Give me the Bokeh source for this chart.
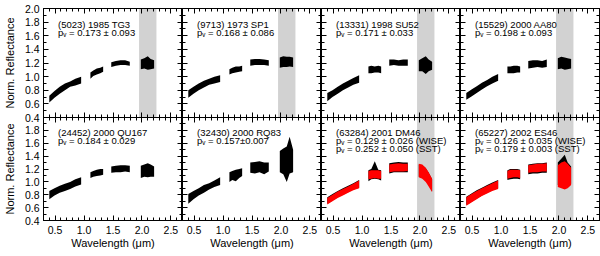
from bokeh.plotting import figure
from bokeh.layouts import gridplot
from bokeh.models import (Range1d, FixedTicker, LinearAxis, BoxAnnotation, Label,
                          ColumnDataSource, PrintfTickFormatter)
from bokeh.embed import file_html
from bokeh.resources import INLINE

# ---------------- data ----------------
# common wavelength sampling of the four spectral pieces (micron)
wavelength = [0.40, 0.49, 0.58, 0.67, 0.76, 0.85, 0.95,
              1.11, 1.16, 1.22, 1.28, 1.33,
              1.47, 1.55, 1.63, 1.71, 1.79,
              1.98, 2.04, 2.10, 2.15, 2.21]
segment = ["vis"] * 7 + ["J"] * 5 + ["H"] * 5 + ["K"] * 5

# lower / upper envelope of the (noisy) normalised reflectance, black spectra
lo_5023 = [0.62, 0.69, 0.75, 0.80, 0.85, 0.87, 0.90, 0.97, 1.01, 1.03, 1.05, 1.07, 1.14, 1.16, 1.17, 1.17, 1.16, 1.11, 1.12, 1.10, 1.11, 1.12]
hi_5023 = [0.72, 0.79, 0.85, 0.90, 0.93, 0.97, 1.00, 1.06, 1.09, 1.12, 1.13, 1.15, 1.21, 1.23, 1.24, 1.24, 1.22, 1.25, 1.27, 1.30, 1.26, 1.24]
lo_9713 = [0.69, 0.75, 0.80, 0.84, 0.88, 0.90, 0.92, 1.03, 1.05, 1.06, 1.07, 1.08, 1.16, 1.17, 1.17, 1.17, 1.16, 1.13, 1.14, 1.14, 1.15, 1.14]
hi_9713 = [0.80, 0.85, 0.90, 0.94, 0.97, 1.00, 1.02, 1.11, 1.13, 1.15, 1.15, 1.16, 1.25, 1.26, 1.26, 1.25, 1.24, 1.28, 1.30, 1.29, 1.29, 1.28]
lo_13331 = [0.64, 0.70, 0.75, 0.80, 0.84, 0.88, 0.91, 1.05, 1.05, 1.06, 1.06, 1.05, 1.16, 1.17, 1.16, 1.16, 1.16, 1.08, 1.08, 1.04, 1.08, 1.10]
hi_13331 = [0.76, 0.80, 0.85, 0.90, 0.94, 0.98, 1.02, 1.15, 1.16, 1.15, 1.16, 1.15, 1.25, 1.25, 1.24, 1.25, 1.25, 1.24, 1.27, 1.30, 1.25, 1.22]
lo_15529 = [0.66, 0.71, 0.76, 0.81, 0.86, 0.90, 0.94, 1.05, 1.05, 1.05, 1.06, 1.06, 1.12, 1.13, 1.14, 1.13, 1.14, 1.11, 1.12, 1.10, 1.11, 1.12]
hi_15529 = [0.76, 0.81, 0.86, 0.91, 0.95, 1.00, 1.04, 1.15, 1.15, 1.16, 1.16, 1.15, 1.23, 1.24, 1.24, 1.23, 1.25, 1.27, 1.29, 1.28, 1.27, 1.26]
lo_24452 = [0.73, 0.79, 0.83, 0.86, 0.89, 0.93, 0.96, 1.06, 1.08, 1.09, 1.10, 1.11, 1.14, 1.15, 1.15, 1.16, 1.15, 1.06, 1.08, 1.07, 1.08, 1.08]
hi_24452 = [0.86, 0.90, 0.94, 0.97, 1.00, 1.04, 1.07, 1.15, 1.17, 1.19, 1.20, 1.20, 1.24, 1.25, 1.26, 1.26, 1.25, 1.25, 1.27, 1.29, 1.27, 1.24]
lo_32430 = [0.66, 0.73, 0.79, 0.83, 0.88, 0.92, 0.95, 1.00, 1.03, 1.01, 1.06, 1.09, 1.14, 1.13, 1.15, 1.12, 1.16, 1.15, 1.12, 1.00, 1.13, 1.15]
hi_32430 = [0.81, 0.86, 0.90, 0.95, 0.98, 1.02, 1.07, 1.15, 1.17, 1.19, 1.20, 1.21, 1.30, 1.31, 1.32, 1.30, 1.30, 1.48, 1.52, 1.55, 1.70, 1.50]
lo_63284 = [0.66, 0.71, 0.76, 0.80, 0.84, 0.88, 0.91, 1.01, 1.04, 1.05, 1.04, 1.02, 1.13, 1.15, 1.15, 1.15, 1.15, 1.08, 1.06, 1.02, 0.95, 0.86]
hi_63284 = [0.76, 0.81, 0.86, 0.90, 0.94, 0.98, 1.03, 1.18, 1.20, 1.32, 1.19, 1.18, 1.29, 1.30, 1.31, 1.30, 1.30, 1.27, 1.26, 1.21, 1.14, 1.04]
lo_65227 = [0.64, 0.69, 0.74, 0.79, 0.83, 0.87, 0.90, 1.03, 1.04, 1.05, 1.05, 1.04, 1.12, 1.13, 1.13, 1.14, 1.14, 0.95, 0.93, 0.91, 0.93, 0.97]
hi_65227 = [0.77, 0.82, 0.87, 0.91, 0.95, 0.99, 1.03, 1.18, 1.20, 1.20, 1.20, 1.19, 1.27, 1.28, 1.29, 1.29, 1.30, 1.30, 1.36, 1.42, 1.30, 1.24]

# second (red) spectra of the last two objects
red_lo_63284 = [0.65, 0.70, 0.75, 0.79, 0.83, 0.87, 0.90, 1.04, 1.05, 1.06, 1.05, 1.05, 1.15, 1.16, 1.16, 1.16, 1.17, 1.07, 1.05, 1.00, 0.93, 0.84]
red_hi_63284 = [0.75, 0.80, 0.85, 0.89, 0.93, 0.97, 1.02, 1.17, 1.18, 1.18, 1.18, 1.17, 1.27, 1.28, 1.29, 1.28, 1.28, 1.28, 1.27, 1.22, 1.15, 1.05]
red_lo_65227 = [0.63, 0.68, 0.73, 0.78, 0.82, 0.86, 0.89, 1.05, 1.06, 1.07, 1.07, 1.06, 1.14, 1.15, 1.15, 1.16, 1.16, 0.92, 0.90, 0.88, 0.90, 0.95]
red_hi_65227 = [0.76, 0.81, 0.86, 0.90, 0.94, 0.98, 1.02, 1.17, 1.19, 1.19, 1.19, 1.18, 1.26, 1.27, 1.28, 1.28, 1.29, 1.26, 1.30, 1.32, 1.28, 1.22]

names = ["(5023) 1985 TG3", "(9713) 1973 SP1", "(13331) 1998 SU52", "(15529) 2000 AA80",
         "(24452) 2000 QU167", "(32430) 2000 RQ83", "(63284) 2001 DM46", "(65227) 2002 ES46"]
albedo_lines = [["pᵥ = 0.173 ± 0.093"], ["pᵥ = 0.168 ± 0.086"], ["pᵥ = 0.171 ± 0.033"], ["pᵥ = 0.198 ± 0.093"],
                ["pᵥ = 0.184 ± 0.029"], ["pᵥ = 0.157±0.007"],
                ["pᵥ = 0.129 ± 0.026 (WISE)", "pᵥ = 0.252 ± 0.050 (SST)"],
                ["pᵥ = 0.126 ± 0.035 (WISE)", "pᵥ = 0.179 ± 0.003 (SST)"]]
black_lo = [lo_5023, lo_9713, lo_13331, lo_15529, lo_24452, lo_32430, lo_63284, lo_65227]
black_hi = [hi_5023, hi_9713, hi_13331, hi_15529, hi_24452, hi_32430, hi_63284, hi_65227]
red_lo = [None, None, None, None, None, None, red_lo_63284, red_lo_65227]
red_hi = [None, None, None, None, None, None, red_hi_63284, red_hi_65227]
shaded = [True, True, True, True, False, False, True, True]
shade_range = [1.95, 2.25]

x_range_lim = [0.3, 2.7]
y_range_lim = [0.4, 2.0]
x_major = [0.5, 1.0, 1.5, 2.0, 2.5]
x_minor = [0.3, 0.4, 0.6, 0.7, 0.8, 0.9, 1.1, 1.2, 1.3, 1.4, 1.6, 1.7, 1.8, 1.9, 2.1, 2.2, 2.3, 2.4, 2.6, 2.7]
y_major = [0.4, 0.6, 0.8, 1.0, 1.2, 1.4, 1.6, 1.8, 2.0]
y_major_labelled_bottom = [0.4, 0.6, 0.8, 1.0, 1.2, 1.4, 1.6, 1.8]
y_minor = [0.5, 0.7, 0.9, 1.1, 1.3, 1.5, 1.7, 1.9]

# ---------------- layout / style ----------------
FW, FH = 139, 109
LEFT, RIGHT, TOP, BOTTOM, GAP = 40, 3, 8, 29, 6
FONT = "Liberation Sans"
TICK_SIZE = "10.5px"
LABEL_SIZE = "11px"
NOTE_SIZE = "9.5px"
SHADE = "#d2d2d2"
MAJOR_LEN, MINOR_LEN = 5, 3
text_y = [1.77, 1.65, 1.525]
text_x = 0.55


def plain_axis(ticks, length, line_color="black"):
    """axis that draws only inward ticks (as 'minor' ticks) and no labels"""
    return LinearAxis(ticker=FixedTicker(ticks=[], minor_ticks=ticks), axis_line_color=line_color,
                      minor_tick_in=length, minor_tick_out=0, minor_tick_line_color="black",
                      major_tick_in=0, major_tick_out=0, axis_label=None)


def add_hidden_side(p, side, major, minor):
    p.add_layout(plain_axis(major, MAJOR_LEN), side)
    p.add_layout(plain_axis(minor, MINOR_LEN, line_color=None), side)


def labelled_axis(major, minor, label, standoff, label_standoff):
    return LinearAxis(ticker=FixedTicker(ticks=major, minor_ticks=minor),
                      formatter=PrintfTickFormatter(format="%.1f"),
                      axis_line_color="black", major_tick_in=MAJOR_LEN, major_tick_out=0,
                      minor_tick_in=MINOR_LEN, minor_tick_out=0,
                      major_tick_line_color="black", minor_tick_line_color="black",
                      major_label_text_font=FONT, major_label_text_font_size=TICK_SIZE,
                      major_label_text_color="black", major_label_standoff=standoff,
                      axis_label=label, axis_label_text_font=FONT,
                      axis_label_text_font_size=LABEL_SIZE, axis_label_text_font_style="normal",
                      axis_label_text_color="black", axis_label_standoff=label_standoff)


panels = []
for i in range(8):
    row, col = divmod(i, 4)
    p = figure(frame_width=FW, frame_height=FH,
               x_range=Range1d(*x_range_lim), y_range=Range1d(*y_range_lim),
               x_axis_location=None, y_axis_location=None,
               output_backend="svg", toolbar_location=None,
               min_border=0,
               min_border_left=LEFT if col == 0 else 0,
               min_border_right=RIGHT if col == 3 else 0,
               min_border_top=TOP if row == 0 else 0,
               min_border_bottom=GAP if row == 0 else BOTTOM,
               background_fill_color="white", border_fill_color="white",
               outline_line_color="black", outline_line_width=1)
    if row == 1:
        p.margin = (-GAP, 0, 0, 0)
        p.border_fill_alpha = 0
    p.xgrid.visible = False
    p.ygrid.visible = False

    # x axes
    if row == 1:
        p.add_layout(labelled_axis(x_major, x_minor, "Wavelength (μm)", 5, 0), "below")
    else:
        add_hidden_side(p, "below", x_major, x_minor)
    add_hidden_side(p, "above", x_major, x_minor)
    # y axes
    if col == 0:
        p.add_layout(labelled_axis(y_major if row == 0 else y_major_labelled_bottom, y_minor,
                                   "Norm. Reflectance", 4, 6), "left")
    else:
        add_hidden_side(p, "left", y_major, y_minor)
    add_hidden_side(p, "right", y_major, y_minor)

    if shaded[i]:
        p.add_layout(BoxAnnotation(left=shade_range[0], right=shade_range[1],
                                   fill_color=SHADE, fill_alpha=1, line_color=None,
                                   level="underlay"))

    for seg in ["vis", "J", "H", "K"]:
        idx = [k for k, s in enumerate(segment) if s == seg]
        src = ColumnDataSource(dict(x=[wavelength[k] for k in idx],
                                    lo=[black_lo[i][k] for k in idx],
                                    hi=[black_hi[i][k] for k in idx]))
        p.varea(x="x", y1="lo", y2="hi", source=src, fill_color="black")
        if red_lo[i] is not None:
            rsrc = ColumnDataSource(dict(x=[wavelength[k] for k in idx],
                                         lo=[red_lo[i][k] for k in idx],
                                         hi=[red_hi[i][k] for k in idx]))
            p.varea(x="x", y1="lo", y2="hi", source=rsrc, fill_color="#ff0000")

    lines = [names[i]] + albedo_lines[i]
    for j, t in enumerate(lines):
        p.add_layout(Label(x=text_x, y=text_y[j], text=t, text_font=FONT,
                           text_font_size=NOTE_SIZE, text_color="black",
                           text_baseline="middle", text_align="left"))
    panels.append(p)

grid = gridplot([panels[:4], panels[4:]], toolbar_location=None)

open("out.html", "w").write(file_html(grid, INLINE))
